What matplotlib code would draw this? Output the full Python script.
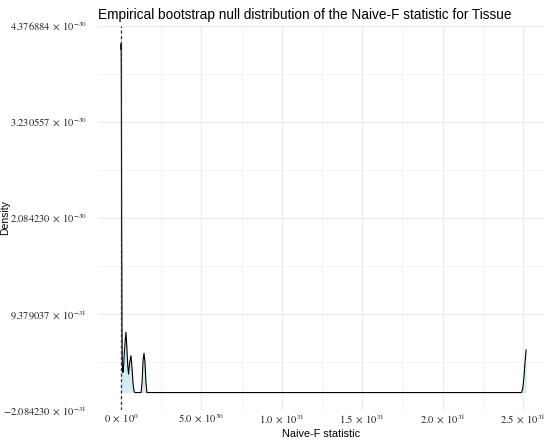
import numpy as np
import matplotlib
matplotlib.use("Agg")
import matplotlib.pyplot as plt

plt.rcParams['mathtext.fontset'] = 'stix'

# Density curve (x in units of 1e30, density in units of 1e-30)
stat_x = np.array([0.000, 0.010, 0.025, 0.040, 0.060, 0.080, 0.110, 0.140, 0.200, 0.260,
                   0.310, 0.360, 0.420, 0.470, 0.540, 0.620, 0.690, 0.750, 0.810, 0.860,
                   1.250, 1.310, 1.370, 1.430, 1.490, 1.550, 1.610,
                   24.900, 24.980, 25.050, 25.120, 25.190]) * 1e30
density = np.array([4.10, 4.168, 3.50, 2.00, 0.80, 0.35, 0.24, 0.25, 0.45, 0.62,
                    0.72, 0.55, 0.32, 0.22, 0.36, 0.44, 0.28, 0.10, 0.02, 0.00,
                    0.00, 0.12, 0.38, 0.47, 0.36, 0.12, 0.00,
                    0.00, 0.05, 0.18, 0.36, 0.51]) * 1e-30

observed_stat = 0.0

x_ticks = np.array([0.0, 5.0e30, 1.0e31, 1.5e31, 2.0e31, 2.5e31])
x_tick_labels = [r'$0\;\times\;10^{0}$', r'$5.0\;\times\;10^{30}$', r'$1.0\;\times\;10^{31}$',
                 r'$1.5\;\times\;10^{31}$', r'$2.0\;\times\;10^{31}$', r'$2.5\;\times\;10^{31}$']
y_ticks = np.array([-2.084230e-31, 9.379037e-31, 2.084230e-30, 3.230557e-30, 4.376884e-30])
y_tick_labels = [r'$-2.084230\;\times\;10^{-31}$', r'$9.379037\;\times\;10^{-31}$',
                 r'$2.084230\;\times\;10^{-30}$', r'$3.230557\;\times\;10^{-30}$',
                 r'$4.376884\;\times\;10^{-30}$']

fig = plt.figure(figsize=(5.5, 4.44), dpi=100)
ax = fig.add_axes([98/550, 1 - 410/444, (544-98)/550, (410-26)/444])

ax.fill_between(stat_x, density, 0, color='lightblue', alpha=0.5, linewidth=0)
ax.plot(stat_x, density, color='black', linewidth=0.8)
ax.axvline(observed_stat, color='#333333', linestyle=(0, (2.5, 2)), linewidth=0.9)

ax.set_xlim(-1.43e30, 26.3e30)
ax.set_ylim(y_ticks[0], y_ticks[-1])

ax.set_xticks(x_ticks)
ax.set_xticklabels(x_tick_labels)
ax.set_yticks(y_ticks)
ax.set_yticklabels(y_tick_labels)
ax.set_xticks([2.5e30, 7.5e30, 1.25e31, 1.75e31, 2.25e31], minor=True)
ax.set_yticks((y_ticks[:-1] + y_ticks[1:]) / 2, minor=True)

ax.grid(True, which='major', color='#EBEBEB', linewidth=0.9)
ax.grid(True, which='minor', color='#F2F2F2', linewidth=0.6)
ax.set_axisbelow(True)
for s in ax.spines.values():
    s.set_visible(False)
ax.tick_params(which='both', length=0)
ax.tick_params(axis='y', pad=8, labelsize=7.5, labelcolor='#222222')
ax.tick_params(axis='x', pad=2, labelsize=7.5, labelcolor='#222222')

ax.set_xlabel('Naive-F statistic', family='Liberation Sans', fontsize=7.8, labelpad=2)
ax.set_ylabel('Density', family='Liberation Sans', fontsize=7.5)
ax.yaxis.set_label_coords(-0.197, 0.5)
ax.set_title('Empirical bootstrap null distribution of the Naive-F statistic for Tissue',
             family='Liberation Sans', fontsize=9.8, loc='left', pad=5)

fig.savefig('out.png', dpi=100)
